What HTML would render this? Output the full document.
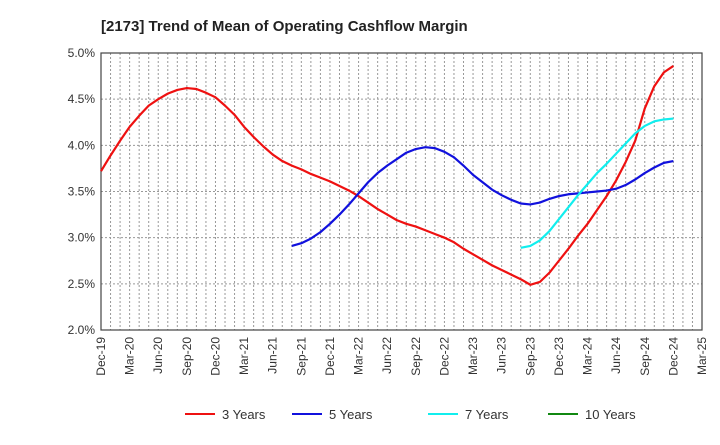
<!DOCTYPE html>
<html><head><meta charset="utf-8"><style>
body{margin:0;background:#fff;font-family:"Liberation Sans",sans-serif}
</style></head><body>
<svg width="720" height="440" xmlns="http://www.w3.org/2000/svg" font-family="Liberation Sans, sans-serif">
<text x="101" y="31" font-size="15" font-weight="bold" fill="#222">[2173]  Trend of Mean of Operating Cashflow Margin</text>
<g id="grid"></g><g id="axes"></g><g id="series"></g><g id="legend"></g>
</svg>
<script>
const xTicks=["Dec-19","Mar-20","Jun-20","Sep-20","Dec-20","Mar-21","Jun-21","Sep-21","Dec-21","Mar-22","Jun-22","Sep-22","Dec-22","Mar-23","Jun-23","Sep-23","Dec-23","Mar-24","Jun-24","Sep-24","Dec-24","Mar-25"];
const yTicks=[2.0,2.5,3.0,3.5,4.0,4.5,5.0];
const s3=[3.72,3.89,4.05,4.2,4.32,4.43,4.5,4.56,4.6,4.62,4.61,4.57,4.52,4.43,4.33,4.2,4.09,3.99,3.9,3.83,3.78,3.74,3.69,3.65,3.61,3.56,3.51,3.45,3.38,3.31,3.25,3.19,3.15,3.12,3.08,3.04,3.0,2.95,2.88,2.82,2.76,2.70,2.65,2.60,2.55,2.49,2.52,2.62,2.75,2.88,3.02,3.15,3.3,3.45,3.62,3.82,4.05,4.4,4.64,4.79,4.86];
const s5Start=20;
const s5=[2.91,2.94,2.99,3.06,3.15,3.25,3.36,3.48,3.6,3.7,3.78,3.85,3.92,3.96,3.98,3.97,3.93,3.87,3.78,3.68,3.6,3.52,3.46,3.41,3.37,3.36,3.38,3.42,3.45,3.47,3.48,3.49,3.5,3.51,3.53,3.57,3.63,3.7,3.76,3.81,3.83];
const s7Start=44;
const s7=[2.89,2.91,2.97,3.07,3.2,3.33,3.46,3.58,3.7,3.8,3.91,4.02,4.13,4.21,4.26,4.28,4.29];
const s10Start=0;
const s10=[];
const L=101,R=702,T=53,B=330,NM=63;
const xs=i=>L+(R-L)*i/NM;
const ys=v=>B-(v-2)/3*(B-T);
const NS="http://www.w3.org/2000/svg";
function mk(t,a,p){const e=document.createElementNS(NS,t);for(const k in a)e.setAttribute(k,a[k]);p.appendChild(e);return e;}
const grid=document.getElementById('grid'),axes=document.getElementById('axes'),ser=document.getElementById('series'),leg=document.getElementById('legend');
for(let m=1;m<NM;m++){const l=mk('line',{x1:xs(m),x2:xs(m),y1:T,y2:B,stroke:'#999','stroke-dasharray':'2,2','stroke-width':1},grid);

}
yTicks.forEach(v=>{const l=mk('line',{x1:L,x2:R,y1:ys(v),y2:ys(v),stroke:'#999','stroke-dasharray':'2,2','stroke-width':1},grid);


const t=mk('text',{x:L-6,y:ys(v)+4,'text-anchor':'end','font-size':12,fill:'#333'},axes);t.textContent=v.toFixed(1)+'%';

});
const fr=mk('rect',{x:L,y:T,width:R-L,height:B-T,fill:'none',stroke:'#444','stroke-width':1.2},axes);


xTicks.forEach((lab,i)=>{const x=xs(i*3);const t=mk('text',{x:0,y:0,'text-anchor':'end','font-size':12,fill:'#333',transform:`translate(${x+4},${B+7}) rotate(-90)`},axes);t.textContent=lab;

});
function line(data,start,col,name){if(!data.length)return;const p=mk('polyline',{points:data.map((v,i)=>xs(start+i)+','+ys(v)).join(' '),fill:'none',stroke:col,'stroke-width':2.2,'stroke-linejoin':'round'},ser);

}
line(s3,0,'#ee1111','series-3-years');line(s5,s5Start,'#1111dd','series-5-years');line(s7,s7Start,'#11eeee','series-7-years');line(s10,s10Start,'#118811','series-10-years');
[['3 Years','#ee1111',185],['5 Years','#1111dd',292],['7 Years','#11eeee',428],['10 Years','#118811',548]].forEach(([n,c,x])=>{
const g=mk('g',{},leg);


mk('line',{x1:x,x2:x+30,y1:414,y2:414,stroke:c,'stroke-width':2},g);
const t=mk('text',{x:x+37,y:419,'font-size':13,fill:'#333'},g);t.textContent=n;});
</script>
</body></html>
